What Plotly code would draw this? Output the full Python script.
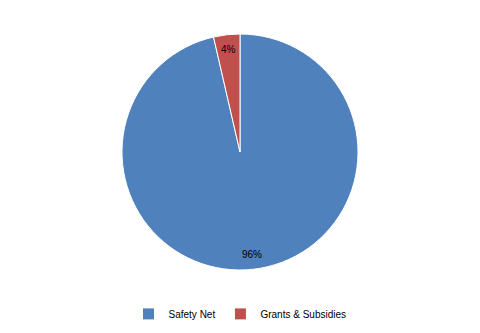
import math
import plotly.graph_objects as go

categories = ["Safety Net", "Grants & Subsidies"]
values = [96.4, 3.6]
colors = ["#4F81BD", "#C0504D"]

W, H = 480, 333
mt, mb = 34, 63
plot_h = H - mt - mb
cx, cy = W / 2, mt + plot_h / 2
R = plot_h / 2

fig = go.Figure(go.Pie(
    labels=categories, values=values, sort=False, direction="clockwise",
    rotation=0, marker=dict(colors=colors, line=dict(color="white", width=1)),
    textinfo="none", hoverinfo="label+percent", showlegend=True,
))

total = sum(values)
ann = []
start = 90.0
for v in values:
    frac = v / total
    mid = start - frac * 360 / 2
    start -= frac * 360
    r = 0.87 * R
    px = cx + r * math.cos(math.radians(mid))
    py = cy - r * math.sin(math.radians(mid))
    ann.append(dict(
        x=px / W, y=(H - mb - py) / plot_h, xref="paper", yref="paper",
        xanchor="center", yanchor="middle",
        text=f"{round(frac * 100)}%", showarrow=False,
        font=dict(family="Liberation Sans, Arial", size=10, color="#000000"),
    ))

fig.update_layout(
    width=W, height=H, margin=dict(l=0, r=0, t=mt, b=mb),
    paper_bgcolor="white", plot_bgcolor="white",
    annotations=ann,
    legend=dict(orientation="h", x=0.5, xanchor="center", y=-0.186, yanchor="middle",
                font=dict(family="Liberation Sans, Arial", size=10, color="#000000"),
                itemwidth=30, tracegroupgap=0),
)
fig.write_html("out.html")
